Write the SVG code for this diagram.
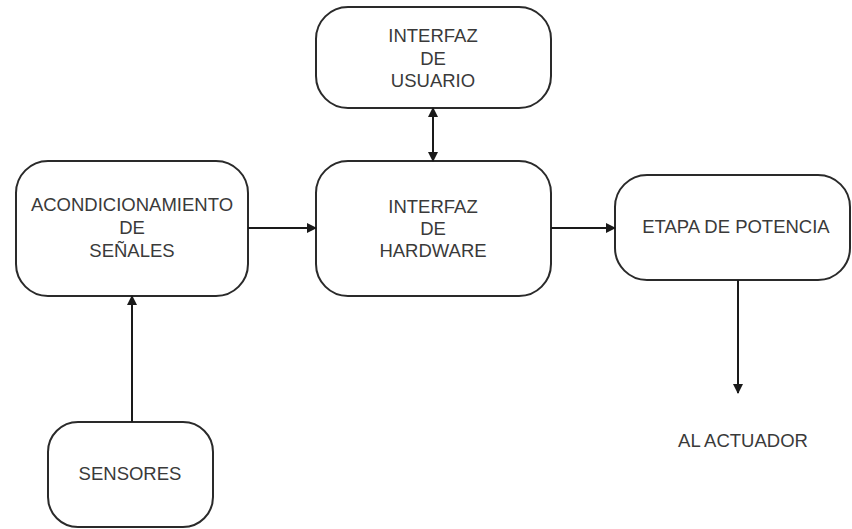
<svg xmlns="http://www.w3.org/2000/svg" width="852" height="529" viewBox="0 0 852 529">
<style>
.box{fill:#fff;stroke:#2a2a2a;stroke-width:2}
.t{font-family:"Liberation Sans",Arial,sans-serif;font-size:18.5px;fill:#3a3a3a;text-anchor:middle}
.c{stroke:#1a1a1a;stroke-width:2;fill:none}
</style>
<defs>
<marker id="ah" viewBox="0 0 10 10" refX="9" refY="5" markerWidth="5" markerHeight="5" orient="auto-start-reverse" markerUnits="strokeWidth">
<path d="M0,0 L10,5 L0,10 z" fill="#1a1a1a"/>
</marker>
</defs>
<rect width="852" height="529" fill="#fff"/>
<g id="acond">
<rect class="box" x="16" y="161" width="232" height="135" rx="32"/>
<text class="t" x="132" y="211">ACONDICIONAMIENTO</text>
<text class="t" x="132" y="234">DE</text>
<text class="t" x="132" y="257">SEÑALES</text>
</g>
<g id="usuario">
<rect class="box" x="316" y="7" width="235" height="101" rx="32"/>
<text class="t" x="433" y="42">INTERFAZ</text>
<text class="t" x="433" y="65">DE</text>
<text class="t" x="433" y="87">USUARIO</text>
</g>
<g id="hardware">
<rect class="box" x="316" y="161" width="235" height="135" rx="32"/>
<text class="t" x="433" y="213">INTERFAZ</text>
<text class="t" x="433" y="235">DE</text>
<text class="t" x="433" y="257">HARDWARE</text>
</g>
<g id="etapa">
<rect class="box" x="615" y="175" width="235" height="105" rx="32"/>
<text class="t" x="736" y="233">ETAPA DE POTENCIA</text>
</g>
<g id="sensores">
<rect class="box" x="48" y="422" width="165" height="105" rx="30"/>
<text class="t" x="130" y="480">SENSORES</text>
</g>
<g id="actuador">
<text class="t" x="743" y="447">AL ACTUADOR</text>
</g>
<g id="connectors">
<line class="c" x1="248" y1="228" x2="316" y2="228" marker-end="url(#ah)"/>
<line class="c" x1="551" y1="228" x2="615" y2="228" marker-end="url(#ah)"/>
<line class="c" x1="433" y1="108" x2="433" y2="161" marker-start="url(#ah)" marker-end="url(#ah)"/>
<line class="c" x1="132" y1="422" x2="132" y2="296" marker-end="url(#ah)"/>
<line class="c" x1="738" y1="280" x2="738" y2="393" marker-end="url(#ah)"/>
</g>
</svg>
